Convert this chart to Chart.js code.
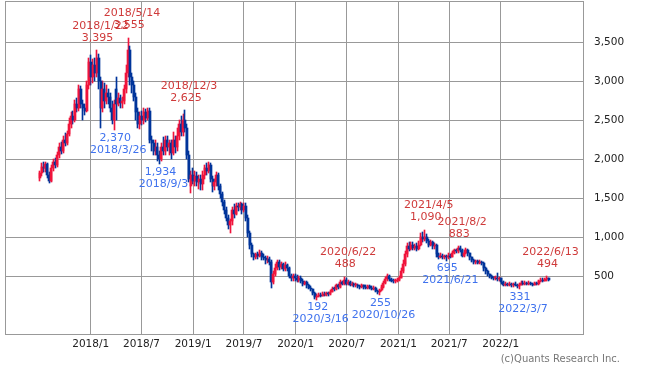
<!DOCTYPE html>
<html><head><meta charset="utf-8">
<script src="https://cdn.jsdelivr.net/npm/chart.js@4/dist/chart.umd.min.js"></script>
<style>html,body{margin:0;padding:0;background:#fff}#wrap{position:relative;width:647px;height:370px}</style>
</head><body><div id="wrap"><canvas id="c" width="647" height="370"></canvas></div>
<script>
// Weekly candles, first week starting 2017/7/3
const startDate = [2017, 7, 3];
const opens = [
1760,1820,1900,1880,1930,1800,1720,1880,1960,1920,
2050,2150,2100,2250,2200,2320,2450,2550,2500,2700,
2650,2900,2700,2650,2620,2950,3250,3050,3200,3100,
3300,3000,2650,2900,2750,2850,2800,2650,2500,2900,
2700,2780,2720,2750,2900,3100,3400,3050,2950,2800,
2600,2450,2550,2500,2600,2520,2620,2250,2200,2100,
2150,2050,2000,2150,2100,2250,2150,2200,2080,2250,
2150,2300,2450,2350,2500,2400,2050,1650,1800,1720,
1780,1700,1750,1680,1800,1880,1850,1920,1750,1650,
1700,1800,1650,1550,1450,1350,1250,1150,1200,1350,
1300,1400,1380,1420,1350,1400,1250,1050,900,780,
750,780,760,790,750,730,700,720,680,420,
520,600,680,620,650,590,640,600,500,470,
500,480,450,480,440,400,420,380,350,330,
280,230,250,260,250,270,260,280,270,300,
340,330,380,360,420,400,450,400,420,390,
400,380,390,370,360,380,360,350,370,350,
340,350,310,290,320,360,410,460,500,460,
440,430,440,450,480,560,650,780,880,850,
900,860,880,850,900,1000,970,1000,950,900,
930,880,900,780,750,760,740,750,740,760,
750,800,830,820,860,830,760,800,830,790,
740,700,680,690,670,680,670,600,560,520,
500,480,470,480,460,470,420,390,400,390,
400,380,400,390,370,390,410,400,410,400,
410,400,390,410,400,430,450,440,460,470];
const highs = [
1850,1950,1960,1960,1950,1830,1920,2000,2010,2090,
2200,2220,2290,2330,2360,2520,2600,2620,2760,2780,
2950,2930,2760,2700,3000,3300,3330,3280,3300,3395,
3350,3050,3000,2980,2950,2900,2850,2750,2760,3050,
2850,2820,2800,2950,3200,3555,3450,3100,3000,2850,
2650,2600,2620,2650,2640,2650,2650,2300,2250,2250,
2200,2100,2200,2280,2300,2300,2250,2250,2350,2300,
2400,2500,2550,2580,2625,2450,2100,1850,1880,1850,
1830,1800,1790,1850,1920,1950,1960,1950,1780,1750,
1830,1820,1680,1580,1480,1380,1280,1230,1380,1420,
1440,1440,1450,1440,1440,1440,1280,1080,920,800,
800,810,830,820,780,760,760,740,700,560,
650,705,700,680,670,680,660,620,520,530,
530,510,500,500,460,440,430,400,370,340,
290,270,280,280,290,290,300,300,320,360,
360,400,400,450,440,488,470,450,430,420,
410,410,400,390,400,390,380,390,380,370,
370,360,320,330,380,430,490,525,510,480,
460,460,470,500,600,700,820,920,940,940,
930,910,920,950,1050,1060,1090,1040,980,960,
950,920,910,800,790,780,770,770,790,780,
820,850,850,883,880,850,830,860,850,800,
750,720,710,700,700,690,680,610,580,530,
510,490,500,540,490,480,430,420,410,420,
410,410,420,400,410,430,430,430,420,430,
420,415,420,420,450,470,470,480,494,480];
const lows = [
1720,1780,1840,1830,1760,1690,1700,1850,1880,1900,
2010,2060,2080,2170,2180,2300,2400,2450,2470,2600,
2620,2650,2500,2560,2600,2900,2950,2980,3000,3050,
2900,2400,2600,2650,2700,2700,2600,2450,2370,2500,
2680,2650,2650,2700,2850,3050,2950,2850,2750,2500,
2400,2380,2430,2450,2480,2500,2200,2100,2050,2050,
1980,1934,1980,2050,2050,2100,2050,2000,2050,2080,
2100,2250,2300,2300,2350,2000,1700,1560,1680,1650,
1650,1620,1600,1600,1750,1800,1820,1700,1580,1600,
1650,1600,1500,1400,1300,1200,1100,1050,1150,1250,
1280,1330,1350,1300,1320,1200,1000,850,740,700,
720,720,740,700,700,650,670,640,350,400,
500,580,580,590,560,570,560,470,430,440,
440,420,420,410,370,380,350,330,310,260,
210,192,230,230,240,240,250,250,260,290,
310,320,340,350,380,390,380,390,370,370,
360,360,350,340,350,340,330,340,330,320,
320,290,270,255,310,350,400,440,440,420,
410,410,420,440,470,540,630,750,820,830,
830,830,820,830,880,930,950,920,870,880,
850,850,750,720,730,720,720,695,720,730,
740,780,800,800,810,740,750,780,760,710,
680,650,660,650,650,640,570,530,500,480,
460,450,450,440,440,400,370,370,370,370,
360,360,370,350,331,380,390,390,385,390,
385,375,380,380,390,420,420,430,440,430];
const closes = [
1820,1900,1880,1930,1800,1720,1880,1960,1920,2050,
2150,2100,2250,2200,2320,2450,2550,2500,2700,2650,
2900,2700,2650,2620,2950,3250,3050,3200,3100,3300,
3000,2650,2900,2750,2850,2800,2650,2500,2700,2700,
2780,2720,2750,2900,3100,3400,3050,2950,2800,2600,
2450,2550,2500,2600,2520,2620,2250,2200,2100,2150,
2050,2000,2150,2100,2250,2150,2200,2080,2250,2150,
2300,2450,2350,2500,2400,2050,1750,1800,1720,1780,
1700,1750,1680,1800,1880,1850,1920,1750,1650,1700,
1800,1650,1550,1450,1350,1250,1150,1200,1350,1300,
1400,1380,1420,1350,1400,1250,1050,900,780,750,
780,760,790,750,730,700,720,680,420,520,
600,680,620,650,590,640,600,500,470,500,
480,450,480,440,400,420,380,350,330,280,
230,250,260,250,270,260,280,270,300,340,
330,380,360,420,400,450,400,420,390,400,
380,390,370,360,380,360,350,370,350,340,
350,310,290,320,360,410,460,500,460,440,
430,440,450,480,560,650,780,880,850,900,
860,880,850,900,1000,970,1000,950,900,930,
880,900,780,750,760,740,750,740,760,750,
800,830,820,860,830,760,800,830,790,740,
700,680,690,670,680,670,600,560,520,500,
480,470,480,460,470,420,390,400,390,400,
380,400,390,370,390,410,400,410,400,410,
400,390,410,400,430,450,440,460,470,450];

const xTickLabels = ['2018/1','2018/7','2019/1','2019/7','2020/1','2020/7','2021/1','2021/7','2022/1'];
const yTickValues = [500,1000,1500,2000,2500,3000,3500];

const highDates = ['2018/1/22','2018/5/14','2018/12/3','2020/6/22','2021/4/5','2021/8/2','2022/6/13'];
const highValues = [3395,3555,2625,488,1090,883,494];
const lowDates = ['2018/3/26','2018/9/3','2020/3/16','2020/10/26','2021/6/21','2022/3/7'];
const lowValues = [2370,1934,192,255,695,331];

const copyright = '(c)Quants Research Inc.';

const RED = '#f0143c', BLUE = '#00349a';
const LABEL_RED = '#cf3a3a', LABEL_BLUE = '#3f72ee';
const FONT = '"DejaVu Sans", sans-serif';

const t0 = Date.UTC(startDate[0], startDate[1]-1, startDate[2]);
function weekPos(str) {
  const p = str.split('/').map(Number);
  return (Date.UTC(p[0], p[1]-1, p[2] || 1) - t0) / (7*86400000);
}
const idx = opens.map((_, i) => i);
const isUp = i => closes[i] >= opens[i];
const colors = idx.map(i => isUp(i) ? RED : BLUE);
const xTickPos = xTickLabels.map(weekPos);

// snap library-computed bar geometry to whole pixels for crisp candles
const snapPlugin = {
  id: 'snap',
  beforeDatasetsDraw(chart) {
    chart.data.datasets.forEach((ds, di) => {
      const meta = chart.getDatasetMeta(di);
      meta.data.forEach(el => {
        if (ds.label === 'wick') el.x = Math.floor(el.x) + 0.5;
        else el.x = Math.round(el.x);
        el.y = Math.round(el.y);
        el.base = Math.round(el.base);
        if (el.base === el.y) el.base = el.y + 1;
      });
    });
  }
};

const framePlugin = {
  id: 'frame',
  beforeDatasetsDraw(chart) {
    const a = chart.chartArea, c = chart.ctx;
    c.save();
    c.strokeStyle = '#999';
    c.lineWidth = 1;
    c.strokeRect(Math.round(a.left)+0.5, Math.round(a.top)+0.5, Math.round(a.right-a.left)-1, Math.round(a.bottom-a.top)-1);
    c.restore();
  },
  afterDraw(chart) {
    const c = chart.ctx, ys = chart.scales.y, a = chart.chartArea;
    c.save();
    c.font = '10.5px ' + FONT;
    c.fillStyle = '#222';
    c.textAlign = 'left';
    c.textBaseline = 'middle';
    yTickValues.forEach(v => c.fillText(v.toLocaleString('en-US'), a.right + 10, ys.getPixelForValue(v)));
    c.font = '10px ' + FONT;
    c.fillStyle = '#777';
    c.textAlign = 'right';
    c.fillText(copyright, 620, 359);
    c.restore();
  }
};

const markPlugin = {
  id: 'marks',
  afterDatasetsDraw(chart) {
    const c = chart.ctx, xs = chart.scales.x, ys = chart.scales.y;
    c.save();
    c.font = '11px ' + FONT;
    c.textAlign = 'center';
    c.textBaseline = 'middle';
    highDates.forEach((d, k) => {
      const x = xs.getPixelForValue(weekPos(d));
      const y = ys.getPixelForValue(highValues[k]);
      c.fillStyle = LABEL_RED;
      c.fillText(d, x + 4, y - 24.5);
      c.fillText(highValues[k].toLocaleString('en-US'), x + 1, y - 12.5);
    });
    lowDates.forEach((d, k) => {
      const x = xs.getPixelForValue(weekPos(d));
      const y = ys.getPixelForValue(lowValues[k]);
      c.fillStyle = LABEL_BLUE;
      c.fillText(lowValues[k].toLocaleString('en-US'), x + 1, y + 7.5);
      c.fillText(d, x + 4, y + 19.5);
    });
    c.restore();
  }
};

new Chart(document.getElementById('c'), {
  type: 'bar',
  data: {
    datasets: [
      { label: 'wick', data: idx.map(i => ({ x: i, y: [lows[i], highs[i]] })),
        backgroundColor: colors, barThickness: 1, grouped: false, order: 2 },
      { label: 'body', data: idx.map(i => ({ x: i, y: [opens[i], closes[i]] })),
        backgroundColor: colors, barThickness: 2, minBarLength: 1, grouped: false, order: 1 }
    ]
  },
  options: {
    responsive: false, animation: false, devicePixelRatio: 1,
    layout: { padding: { left: 5, top: 1, right: 0, bottom: 0 }, autoPadding: false },
    plugins: { legend: { display: false }, tooltip: { enabled: false } },
    scales: {
      x: {
        type: 'linear', min: -17.6, max: 277.05, offset: false,
        grid: { color: '#999', drawTicks: false, tickLength: 0, offset: false },
        border: { display: false },
        afterBuildTicks: s => { s.ticks = xTickPos.map(v => ({ value: v })); },
        ticks: { callback: (v, i) => xTickLabels[i], autoSkip: false, maxRotation: 0,
                 font: { family: FONT, size: 10.5 }, color: '#222', padding: 3 },
        afterFit: s => { s.height = 35; }
      },
      y: {
        position: 'right', min: -256, max: 4026,
        grid: { color: '#999', drawTicks: false, tickLength: 0 },
        border: { display: false },
        afterBuildTicks: s => { s.ticks = yTickValues.map(v => ({ value: v })); },
        ticks: { display: false },
        afterFit: s => { s.width = 63; }
      }
    }
  },
  plugins: [snapPlugin, framePlugin, markPlugin]
});
</script></body></html>
